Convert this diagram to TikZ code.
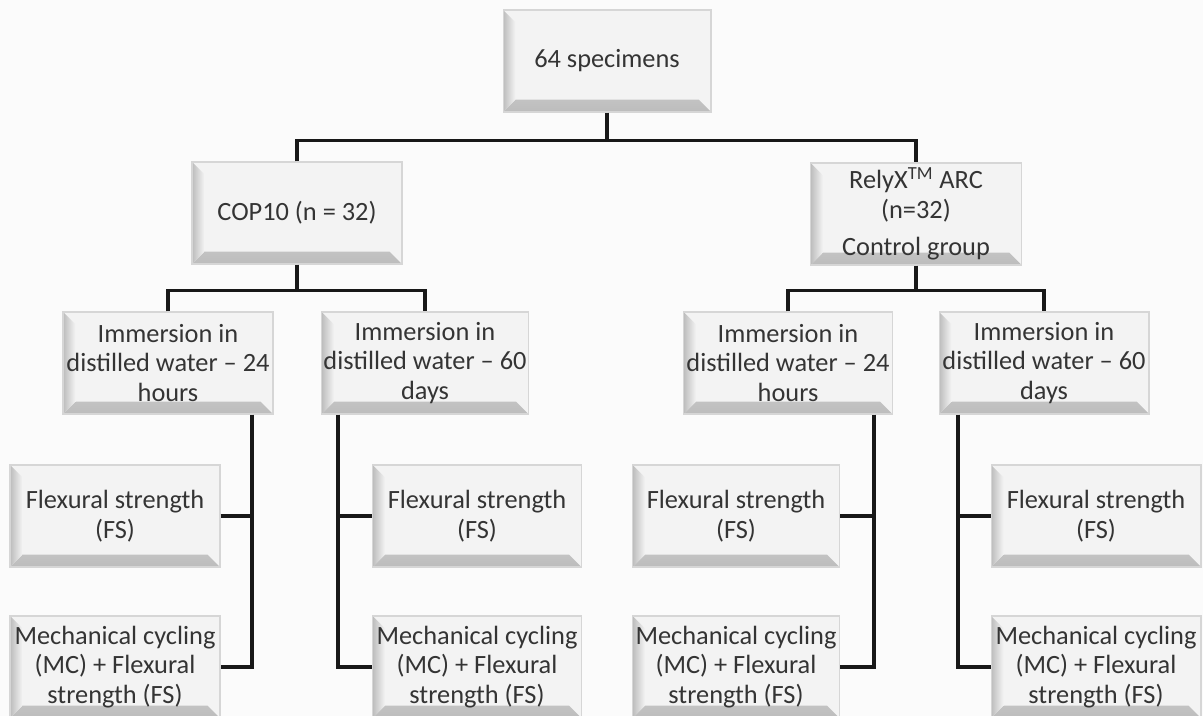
\documentclass[tikz,border=0pt]{standalone}
\usepackage{fontspec}
\setmainfont{Carlito}
\usetikzlibrary{calc,positioning}
\definecolor{fg}{RGB}{52,52,52}
\definecolor{ln}{RGB}{24,24,24}
\definecolor{boxfill}{RGB}{243,243,243}
\definecolor{boxedge}{RGB}{214,214,214}
\definecolor{bevdark}{RGB}{188,188,188}
\definecolor{bg}{RGB}{251,251,251}
\tikzset{
  every node/.style={font=\fontsize{15}{17}\selectfont, text=fg},
  % Kaesten mit Fase links und unten
  box/.style={rectangle, fill=boxfill, draw=boxedge, line width=0.6pt, align=center,
    inner sep=0pt, minimum width=#1, minimum height=2.04cm,
    path picture={
      \shade[top color=boxfill, bottom color=bevdark]
        (path picture bounding box.south west) -- ++(7pt,7pt)
        -- ($(path picture bounding box.south east)+(-7pt,7pt)$)
        -- (path picture bounding box.south east) -- cycle;
      \shade[left color=bevdark, right color=boxfill]
        (path picture bounding box.south west) -- (path picture bounding box.north west)
        -- ++(7pt,-7pt) -- ($(path picture bounding box.south west)+(7pt,7pt)$) -- cycle;
    }},
  box/.default=4.2cm,
  % Verbindungslinien
  conn/.style={draw=ln, line width=2.2pt},
}

\begin{document}
\begin{tikzpicture}[x=0.02cm, y=-0.02cm]
  \path[use as bounding box] (0,0) rectangle (1203,716);
  \fill[bg] (0,0) rectangle (1203,716);
  \clip (0,0) rectangle (1203,716);
  % Ebene 1 und 2
  \node[box=4.16cm] (top) at (607,61) {64 specimens};
  \node[box] (cop) at (297,213) {COP10 (n = 32)};
  \node[box=4.22cm] (rely) at (916,214) {RelyX\textsuperscript{TM} ARC\\(n=32)\\[4pt]Control group};
  % Lagerung
  \node[box] (im1) at (168,363) {Immersion in\\distilled water -- 24\\hours};
  \node[box=4.14cm] (im2) at (425,363) {Immersion in\\distilled water -- 60\\days};
  \node[box=4.18cm] (im3) at (788,363) {Immersion in\\distilled water -- 24\\hours};
  \node[box] (im4) at (1044,363) {Immersion in\\distilled water -- 60\\days};
  % Pruefungen
  \node[box] (fs1) at (115,516) {Flexural strength\\(FS)};
  \node[box] (mc1) at (115,667) {Mechanical cycling\\(MC) + Flexural\\strength (FS)};
  \node[box=4.18cm] (fs2) at (477,516) {Flexural strength\\(FS)};
  \node[box=4.18cm] (mc2) at (477,667) {Mechanical cycling\\(MC) + Flexural\\strength (FS)};
  \node[box=4.14cm] (fs3) at (736,516) {Flexural strength\\(FS)};
  \node[box=4.14cm] (mc3) at (736,667) {Mechanical cycling\\(MC) + Flexural\\strength (FS)};
  \node[box] (fs4) at (1096,516) {Flexural strength\\(FS)};
  \node[box] (mc4) at (1096,667) {Mechanical cycling\\(MC) + Flexural\\strength (FS)};
  % Verbindungen
  \draw[conn] (top.south) -- ++(0,28) coordinate (j0);
  \draw[conn] (cop.north) |- (j0) -| (rely.north);
  \draw[conn] (cop.south) -- ++(0,26) coordinate (j1);
  \draw[conn] (im1.north) |- (j1) -| (im2.north);
  \draw[conn] (rely.south) -- ++(0,25) coordinate (j2);
  \draw[conn] (im3.north) |- (j2) -| (im4.north);
  \coordinate (s1) at (252,0);
  \coordinate (s2) at (338,0);
  \coordinate (s3) at (874,0);
  \coordinate (s4) at (958,0);
  \draw[conn] (im1.south -| s1) |- (mc1.east);
  \draw[conn] (fs1.east) -- (fs1.east -| s1);
  \draw[conn] (im2.south -| s2) |- (mc2.west);
  \draw[conn] (fs2.west) -- (fs2.west -| s2);
  \draw[conn] (im3.south -| s3) |- (mc3.east);
  \draw[conn] (fs3.east) -- (fs3.east -| s3);
  \draw[conn] (im4.south -| s4) |- (mc4.west);
  \draw[conn] (fs4.west) -- (fs4.west -| s4);
\end{tikzpicture}
\end{document}
